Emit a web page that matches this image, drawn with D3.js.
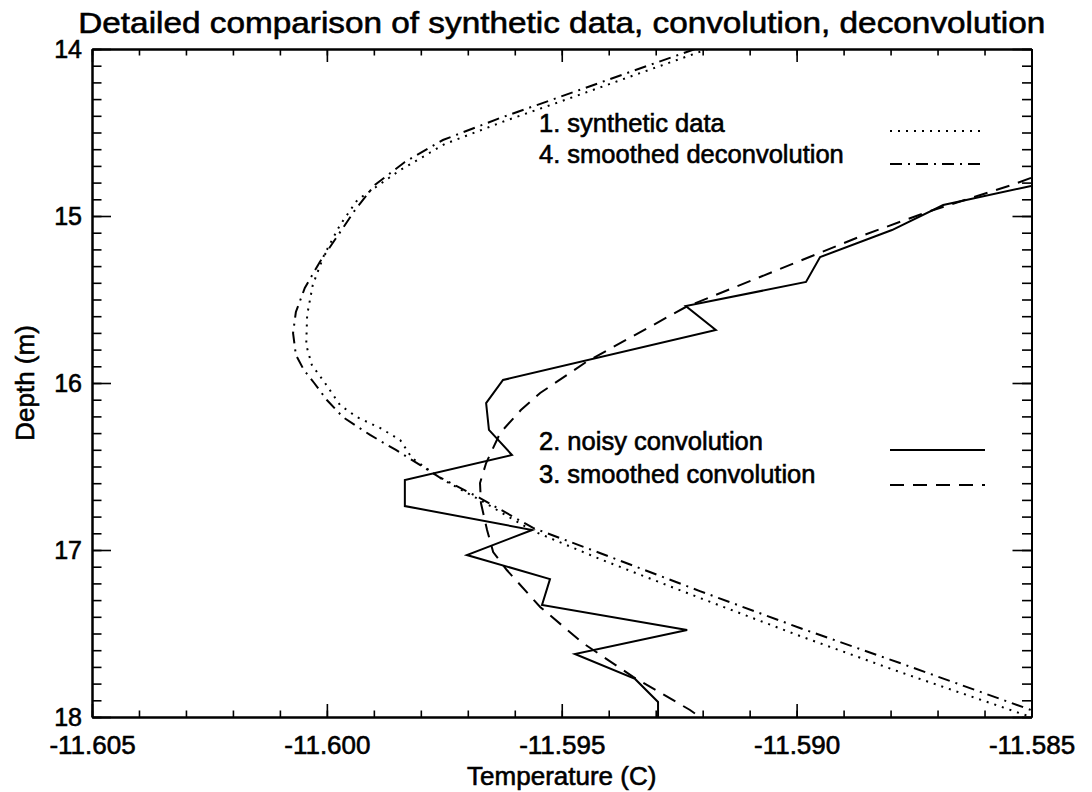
<!DOCTYPE html>
<html><head><meta charset="utf-8">
<script src="https://cdn.jsdelivr.net/npm/d3@7"></script>
<style>
html,body{margin:0;padding:0;background:#fff;}
svg{display:block;background:#fff;}
text{font-family:"Liberation Sans",Arial,Helvetica,sans-serif;fill:#000;stroke:#000;stroke-width:0.6px;}
</style></head><body>
<svg id="chart" width="1092" height="792"></svg>
<script>
// ---- text ----
const titleText = "Detailed comparison of synthetic data, convolution, deconvolution";
const xLabel = "Temperature (C)";
const yLabel = "Depth (m)";
const xTickValues = [-11.605, -11.600, -11.595, -11.590, -11.585];
const yTickValues = [14, 15, 16, 17, 18];
const legendTop = ["1. synthetic data", "4. smoothed deconvolution"];
const legendBottom = ["2. noisy convolution", "3. smoothed convolution"];

// ---- series 1: synthetic data (dotted) ----
const synthTemp = [-11.59189,-11.59333,-11.59487,-11.59621,-11.59749,-11.59844,-11.59935,-11.59972,-11.60006,-11.60030,-11.60042,-11.60044,-11.60032,-11.60004,-11.59972,-11.59936,-11.59887,-11.59844,-11.59819,-11.59759,-11.59674,-11.59561,-11.59419,-11.59206,-11.58993,-11.58780,-11.58501];
const synthDepth = [14.000,14.144,14.299,14.431,14.569,14.725,14.904,15.054,15.234,15.413,15.593,15.772,15.892,16.000,16.132,16.204,16.269,16.341,16.449,16.569,16.701,16.886,17.054,17.287,17.515,17.731,18.000];

// ---- series 4: smoothed deconvolution (dash-dot) ----
const deconvTemp = [-11.59216,-11.59355,-11.59504,-11.59631,-11.59753,-11.59834,-11.59898,-11.59940,-11.59976,-11.60015,-11.60047,-11.60066,-11.60072,-11.60066,-11.60049,-11.60027,-11.60000,-11.59966,-11.59908,-11.59853,-11.59761,-11.59674,-11.59561,-11.59419,-11.59206,-11.58993,-11.58780,-11.58501];
const deconvDepth = [14.000,14.138,14.287,14.413,14.545,14.677,14.814,14.964,15.114,15.275,15.431,15.575,15.701,15.832,15.922,16.000,16.102,16.204,16.311,16.401,16.563,16.689,16.868,17.018,17.246,17.467,17.677,17.958];

// ---- series 2: noisy convolution (solid) ----
const noisyTemp = [-11.58501,-11.58688,-11.58797,-11.58950,-11.58980,-11.59236,-11.59172,-11.59625,-11.59661,-11.59655,-11.59606,-11.59834,-11.59834,-11.59563,-11.59702,-11.59525,-11.59542,-11.59233,-11.59472,-11.59344,-11.59295,-11.59295];
const noisyDepth = [14.820,14.934,15.084,15.246,15.395,15.539,15.683,15.982,16.120,16.281,16.431,16.581,16.737,16.880,17.030,17.174,17.329,17.479,17.623,17.772,17.910,18.000];

// ---- series 3: smoothed convolution (dashed) ----
const smoothTemp = [-11.58501,-11.58542,-11.58722,-11.58857,-11.58993,-11.59236,-11.59448,-11.59546,-11.59587,-11.59631,-11.59661,-11.59674,-11.59672,-11.59659,-11.59646,-11.59617,-11.59546,-11.59455,-11.59348,-11.59227,-11.59206];
const smoothDepth = [14.772,14.814,14.976,15.114,15.269,15.545,15.874,16.060,16.162,16.299,16.479,16.599,16.719,16.880,17.012,17.120,17.341,17.557,17.760,17.958,18.000];

// ---- layout ----
const L = 92, R = 1031.5, T = 49, B = 717;
const svg = d3.select("#chart");
const x = d3.scaleLinear().domain([-11.605, -11.585]).range([L, R]);
const y = d3.scaleLinear().domain([14, 18]).range([T, B]);

svg.append("defs").append("clipPath").attr("id", "plotclip")
  .append("rect").attr("x", L).attr("y", T).attr("width", R - L).attr("height", B - T);

// ---- curves ----
function zip(a, b) { return a.map((v, i) => [v, b[i]]); }
const line = d3.line().x(d => x(d[0])).y(d => y(d[1]));
const curves = [
  { data: zip(synthTemp, synthDepth), dash: "2,6" },
  { data: zip(deconvTemp, deconvDepth), dash: "12,6,2,6" },
  { data: zip(noisyTemp, noisyDepth), dash: null },
  { data: zip(smoothTemp, smoothDepth), dash: "14,9" }
];
const g = svg.append("g").attr("clip-path", "url(#plotclip)");
curves.forEach(c => {
  g.append("path").attr("d", line(c.data)).attr("fill", "none")
    .attr("stroke", "#000").attr("stroke-width", 2)
    .attr("stroke-linejoin", "miter")
    .attr("stroke-dasharray", c.dash);
});

// ---- axes ----
const fmt = d => d.toFixed(3);
const xMinor = x.ticks(20);
const yMinor = y.ticks(40);
function style(sel) {
  sel.selectAll("path.domain").attr("stroke", "#000").attr("stroke-width", 2);
  sel.selectAll("line").attr("stroke", "#000").attr("stroke-width", 1.6);
}
svg.append("g").attr("transform", `translate(0,${B})`)
  .call(d3.axisBottom(x).tickValues(xMinor).tickSize(-6.5).tickSizeOuter(0).tickFormat(""))
  .call(style);
const bx = svg.append("g").attr("transform", `translate(0,${B})`)
  .call(d3.axisBottom(x).tickValues(xTickValues).tickSize(-13).tickSizeOuter(0).tickPadding(18).tickFormat(fmt))
  .call(style);
bx.selectAll("text").attr("font-size", 26).attr("dy", "0.71em").attr("y", 19);
svg.append("g").attr("transform", `translate(0,${T})`)
  .call(d3.axisTop(x).tickValues(xMinor).tickSize(-6.5).tickSizeOuter(0).tickFormat(""))
  .call(style);
svg.append("g").attr("transform", `translate(0,${T})`)
  .call(d3.axisTop(x).tickValues(xTickValues).tickSize(-13).tickSizeOuter(0).tickFormat(""))
  .call(style);
svg.append("g").attr("transform", `translate(${L},0)`)
  .call(d3.axisLeft(y).tickValues(yMinor).tickSize(-9.5).tickSizeOuter(0).tickFormat(""))
  .call(style);
const ly = svg.append("g").attr("transform", `translate(${L},0)`)
  .call(d3.axisLeft(y).tickValues(yTickValues).tickSize(-19).tickSizeOuter(0).tickPadding(10).tickFormat(d3.format("d")))
  .call(style);
ly.selectAll("text").attr("font-size", 25);
svg.append("g").attr("transform", `translate(${R},0)`)
  .call(d3.axisRight(y).tickValues(yMinor).tickSize(-9.5).tickSizeOuter(0).tickFormat(""))
  .call(style);
svg.append("g").attr("transform", `translate(${R},0)`)
  .call(d3.axisRight(y).tickValues(yTickValues).tickSize(-19).tickSizeOuter(0).tickFormat(""))
  .call(style);
svg.selectAll(".tick text").attr("font-family", '"Liberation Sans",Arial,Helvetica,sans-serif').attr("fill", "#000");

// ---- titles ----
svg.append("text").attr("x", (L + R) / 2).attr("y", 33).attr("text-anchor", "middle")
  .attr("font-size", 30).attr("textLength", 967).attr("lengthAdjust", "spacingAndGlyphs")
  .text(titleText);
svg.append("text").attr("x", (L + R) / 2).attr("y", 785).attr("text-anchor", "middle")
  .attr("font-size", 26).text(xLabel);
svg.append("text").attr("transform", `translate(34,${(T + B) / 2}) rotate(-90)`)
  .attr("text-anchor", "middle").attr("font-size", 26).text(yLabel);

// ---- legends ----
const legendItems = [
  { label: legendTop[0], dash: "2,6", ty: 132, ly: 131 },
  { label: legendTop[1], dash: "12,6,2,6", ty: 163, ly: 164 },
  { label: legendBottom[0], dash: null, ty: 450, ly: 450 },
  { label: legendBottom[1], dash: "14,9", ty: 483, ly: 485 }
];
legendItems.forEach(it => {
  svg.append("text").attr("x", 539).attr("y", it.ty).attr("font-size", 25.5).text(it.label);
  svg.append("line").attr("x1", 890).attr("x2", 985).attr("y1", it.ly).attr("y2", it.ly)
    .attr("stroke", "#000").attr("stroke-width", 2).attr("stroke-dasharray", it.dash);
});
</script>
</body></html>
